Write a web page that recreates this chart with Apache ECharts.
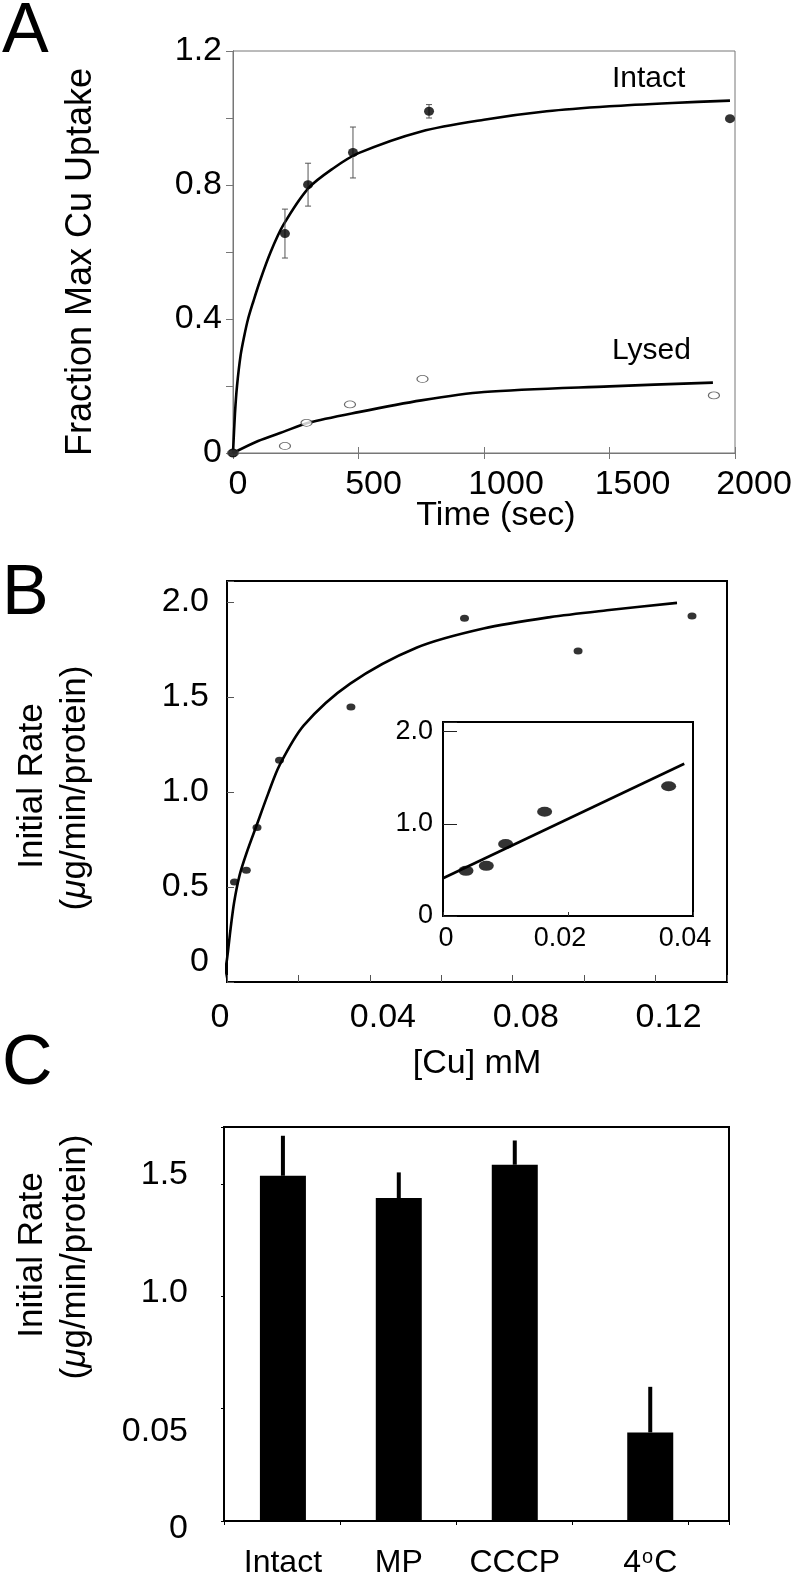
<!DOCTYPE html>
<html>
<head>
<meta charset="utf-8">
<script src="https://cdn.jsdelivr.net/npm/echarts@6/dist/echarts.min.js"></script>
<style>
html,body{margin:0;padding:0;background:#fff;}
#chart{width:800px;height:1576px;}
</style>
</head>
<body>
<div id="chart"></div>
<script>
// ---------- Panel A data ----------
const intactTimes = [0, 207, 299, 478, 781, 1980];
const intactVals  = [0, 0.655, 0.801, 0.897, 1.020, 0.998];
const intactErr   = [0, 0.073, 0.064, 0.076, 0.020, 0];
const lysedTimes  = [0, 207, 293, 466, 755, 1916];
const lysedVals   = [0, 0.021, 0.090, 0.145, 0.221, 0.172];
const intactCurveT = [0, 8, 16, 30, 45, 60, 80, 108, 150, 200, 300, 400, 500, 750, 1000, 1250, 1500, 1750, 1980];
const intactCurveV = [0, 0.12, 0.20, 0.29, 0.35, 0.40, 0.45, 0.515, 0.60, 0.68, 0.79, 0.85, 0.895, 0.96, 0.995, 1.02, 1.035, 1.045, 1.052];
const lysedCurveT = [0, 100, 200, 300, 500, 750, 1000, 1500, 1912];
const lysedCurveV = [0, 0.036, 0.063, 0.090, 0.122, 0.157, 0.182, 0.199, 0.210];
const timeTicks = [0, 500, 1000, 1500, 2000];
const fracTicks = ['0', '0.4', '0.8', '1.2'];

// ---------- Panel B data ----------
const concB = [0.0021, 0.0054, 0.0084, 0.0147, 0.0347, 0.0665, 0.0983, 0.1302];
const rateB = [0.526, 0.588, 0.813, 1.167, 1.447, 1.914, 1.742, 1.926];
const curveBx = [-0.0011, 0, 0.001, 0.002, 0.0035, 0.0055, 0.0084, 0.0115, 0.0147, 0.0215, 0.0345, 0.0532, 0.0718, 0.0905, 0.1064, 0.126];
const curveBy = [0, 0.12, 0.28, 0.42, 0.56, 0.68, 0.83, 0.99, 1.14, 1.35, 1.57, 1.76, 1.86, 1.92, 1.956, 1.995];
// inset (double reciprocal)
const insetX = [0.00368, 0.00693, 0.01002, 0.01626, 0.0361];
const insetY = [0.49, 0.544, 0.781, 1.131, 1.408];
const insetLineX = [0, 0.0386];
const insetLineY = [0.41, 1.652];

// ---------- Panel C data ----------
const categories = ['Intact', 'MP', 'CCCP', '4oC'];
const catPos = [0.508, 1.507, 2.507, 3.675];
const rateC = [1.536, 1.437, 1.585, 0.394];
const errC = [0.178, 0.114, 0.108, 0.203];
const rateCLabels = {0: '0', 0.5: '0.05', 1: '1.0', 1.5: '1.5'};

const FONT = "'Liberation Sans', Arial, Helvetica, sans-serif";
const zip = (a, b) => a.map((v, i) => [v, b[i]]);

const chart = echarts.init(document.getElementById('chart'), null, {renderer: 'canvas'});

function errBarsSym(color, lw, cap) {
  return function (params, api) {
    const x = api.value(0), y = api.value(1), e = api.value(2);
    if (!e) return null;
    const t = api.coord([x, y + e]);
    const b = api.coord([x, y - e]);
    return {
      type: 'group',
      children: [
        {type: 'line', shape: {x1: t[0], y1: t[1], x2: b[0], y2: b[1]}, style: {stroke: color, lineWidth: lw}},
        {type: 'line', shape: {x1: t[0] - cap, y1: t[1], x2: t[0] + cap, y2: t[1]}, style: {stroke: color, lineWidth: lw}},
        {type: 'line', shape: {x1: b[0] - cap, y1: b[1], x2: b[0] + cap, y2: b[1]}, style: {stroke: color, lineWidth: lw}}
      ]
    };
  };
}
function errBarsUp(params, api) {
  const x = api.value(0), y = api.value(1), e = api.value(2);
  const s = api.coord([x, y]);
  const t = api.coord([x, y + e]);
  return {type: 'line', shape: {x1: s[0], y1: s[1], x2: t[0], y2: t[1]}, style: {stroke: '#000', lineWidth: 4}};
}

const xShiftA = {0: 10, 500: 30, 1000: 44, 1500: 46, 2000: 38};
const near = (v, t) => Math.abs(v - t) < 1e-9;

const option = {
  animation: false,
  backgroundColor: '#fff',
  textStyle: {fontFamily: FONT},
  grid: [
    {left: 233, top: 51, width: 502, height: 402, show: true, borderColor: '#777', borderWidth: 1},
    {left: 227, top: 581, width: 500, height: 401, show: true, borderColor: '#000', borderWidth: 2},
    {left: 443, top: 722, width: 250, height: 194, show: true, borderColor: '#000', borderWidth: 2, backgroundColor: '#fff'},
    {left: 224, top: 1127, width: 505, height: 394, show: true, borderColor: '#000', borderWidth: 2}
  ],
  xAxis: [
    { // A bottom
      gridIndex: 0, type: 'value', min: 0, max: 2000, interval: 500, position: 'bottom',
      axisLine: {lineStyle: {color: '#777', width: 1}},
      axisTick: {inside: true, length: 6, lineStyle: {color: '#777'}},
      splitLine: {show: false},
      axisLabel: {
        margin: 15, color: '#000', fontSize: 34, fontFamily: FONT,
        formatter: v => {
          if (!timeTicks.includes(v)) return '';
          return '{p' + xShiftA[v] + '|' + v + '}';
        },
        rich: {
          p10: {padding: [0, 0, 0, 10], fontSize: 34, fontFamily: FONT, color: '#000'},
          p30: {padding: [0, 0, 0, 30], fontSize: 34, fontFamily: FONT, color: '#000'},
          p44: {padding: [0, 0, 0, 44], fontSize: 34, fontFamily: FONT, color: '#000'},
          p46: {padding: [0, 0, 0, 46], fontSize: 34, fontFamily: FONT, color: '#000'},
          p38: {padding: [0, 0, 0, 38], fontSize: 34, fontFamily: FONT, color: '#000'}
        }
      }
    },
    { // A top
      gridIndex: 0, type: 'value', min: 0, max: 2000, interval: 500, position: 'top',
      axisLine: {lineStyle: {color: '#777', width: 1}},
      axisTick: {inside: true, length: 6, lineStyle: {color: '#777'}},
      splitLine: {show: false}, axisLabel: {show: false}
    },
    { // B
      gridIndex: 1, type: 'value', min: 0, max: 0.14, interval: 0.02,
      axisLine: {lineStyle: {color: '#000', width: 2}},
      axisTick: {inside: true, length: 7, lineStyle: {color: '#555'}},
      splitLine: {show: false},
      axisLabel: {
        margin: 19, color: '#000', fontSize: 34, fontFamily: FONT,
        formatter: v => {
          if (near(v, 0)) return '{z|0}';
          for (const t of [0.04, 0.08, 0.12]) if (near(v, t)) return '{r|' + t + '}';
          return '';
        },
        rich: {
          z: {padding: [0, 14, 0, 0], fontSize: 34, fontFamily: FONT, color: '#000'},
          r: {padding: [0, 0, 0, 26], fontSize: 34, fontFamily: FONT, color: '#000'}
        }
      }
    },
    { // inset
      gridIndex: 2, type: 'value', min: 0, max: 0.04, interval: 0.02,
      axisLine: {lineStyle: {color: '#000', width: 2}},
      axisTick: {inside: true, length: 4, lineStyle: {color: '#333'}},
      splitLine: {show: false},
      axisLabel: {
        margin: 9, color: '#000', fontSize: 27, fontFamily: FONT,
        formatter: v => {
          if (near(v, 0)) return '{z|0}';
          if (near(v, 0.02)) return '{l|0.02}';
          if (near(v, 0.04)) return '{l|0.04}';
          return '';
        },
        rich: {
          z: {padding: [0, 0, 0, 6], fontSize: 27, fontFamily: FONT, color: '#000'},
          l: {padding: [0, 16, 0, 0], fontSize: 27, fontFamily: FONT, color: '#000'}
        }
      }
    },
    { // C
      gridIndex: 3, type: 'value', min: 0, max: 4.354, interval: 1,
      axisLine: {lineStyle: {color: '#000', width: 2}},
      axisTick: {inside: false, length: 4, lineStyle: {color: '#000'}},
      splitLine: {show: false}, axisLabel: {show: false}
    }
  ],
  yAxis: [
    { // A left
      gridIndex: 0, type: 'value', min: 0, max: 1.2, interval: 0.2,
      axisLine: {lineStyle: {color: '#777', width: 1}},
      axisTick: {inside: false, length: 7, lineStyle: {color: '#777'}},
      splitLine: {show: false},
      axisLabel: {
        margin: 11, color: '#000', fontSize: 34, fontFamily: FONT,
        formatter: v => {
          const k = Math.round(v * 10);
          if (Math.abs(v * 10 - k) > 1e-6 || k % 4 !== 0) return '';
          return fracTicks[k / 4];
        }
      }
    },
    { // A right
      gridIndex: 0, type: 'value', min: 0, max: 1.2, interval: 0.2, position: 'right',
      axisLine: {lineStyle: {color: '#777', width: 1}},
      axisTick: {inside: true, length: 7, lineStyle: {color: '#777'}},
      splitLine: {show: false}, axisLabel: {show: false}
    },
    { // B
      gridIndex: 1, type: 'value', min: 0, max: 2.11, interval: 0.5,
      axisLine: {lineStyle: {color: '#000', width: 2}},
      axisTick: {inside: true, length: 7, lineStyle: {color: '#555'}},
      splitLine: {show: false},
      axisLabel: {
        margin: 18, color: '#000', fontSize: 34, fontFamily: FONT,
        formatter: v => {
          if (near(v, 0)) return '{z|0}';
          for (const t of [0.5, 1, 1.5, 2]) if (near(v, t)) return t.toFixed(1);
          return '';
        },
        rich: {z: {padding: [0, 0, 40, 0], fontSize: 34, fontFamily: FONT, color: '#000'}}
      }
    },
    { // inset
      gridIndex: 2, type: 'value', min: 0, max: 2.105, interval: 1,
      axisLine: {lineStyle: {color: '#000', width: 2}},
      axisTick: {inside: true, length: 14, lineStyle: {color: '#222'}},
      splitLine: {show: false},
      axisLabel: {
        margin: 10, color: '#000', fontSize: 27, fontFamily: FONT,
        formatter: v => {
          if (near(v, 0)) return '0';
          if (near(v, 1)) return '1.0';
          if (near(v, 2)) return '2.0';
          return '';
        }
      }
    },
    { // C
      gridIndex: 3, type: 'value', min: 0, max: 1.753, interval: 0.5,
      axisLine: {lineStyle: {color: '#000', width: 2}},
      axisTick: {inside: false, length: 3, lineStyle: {color: '#000'}},
      splitLine: {show: false},
      axisLabel: {
        margin: 36, color: '#000', fontSize: 34, fontFamily: FONT,
        formatter: v => {
          if (near(v, 0)) return '{d8|' + rateCLabels[0] + '}';
          if (near(v, 0.5)) return '{d23|' + rateCLabels[0.5] + '}';
          if (near(v, 1)) return '{u4|' + rateCLabels[1] + '}';
          if (near(v, 1.5)) return '{u9|' + rateCLabels[1.5] + '}';
          return '';
        },
        rich: {
          d8: {padding: [16, 0, 0, 0], fontSize: 34, fontFamily: FONT, color: '#000'},
          d23: {padding: [46, 0, 0, 0], fontSize: 34, fontFamily: FONT, color: '#000'},
          u4: {padding: [0, 0, 8, 0], fontSize: 34, fontFamily: FONT, color: '#000'},
          u9: {padding: [0, 0, 18, 0], fontSize: 34, fontFamily: FONT, color: '#000'}
        }
      }
    }
  ],
  series: [
    // ----- A -----
    {type: 'line', xAxisIndex: 0, yAxisIndex: 0, data: zip(intactCurveT, intactCurveV), smooth: 0.3,
     showSymbol: false, lineStyle: {color: '#000', width: 2.6}, z: 2, silent: true},
    {type: 'line', xAxisIndex: 0, yAxisIndex: 0, data: zip(lysedCurveT, lysedCurveV), smooth: 0.3,
     showSymbol: false, lineStyle: {color: '#000', width: 2.6}, z: 2, silent: true},
    {type: 'custom', xAxisIndex: 0, yAxisIndex: 0, renderItem: errBarsSym('#555', 1, 3),
     data: intactTimes.map((t, i) => [t, intactVals[i], intactErr[i]]), z: 3, encode: {x: 0, y: 1}},
    {type: 'scatter', xAxisIndex: 0, yAxisIndex: 0, data: zip(lysedTimes, lysedVals), symbol: 'circle',
     symbolSize: [11, 7], itemStyle: {color: '#fff', borderColor: '#444', borderWidth: 1}, z: 4},
    {type: 'scatter', xAxisIndex: 0, yAxisIndex: 0, data: zip(intactTimes, intactVals), symbol: 'circle',
     symbolSize: [10, 9], itemStyle: {color: '#000'}, z: 5},
    // ----- B -----
    {type: 'line', xAxisIndex: 2, yAxisIndex: 2, data: zip(curveBx, curveBy), smooth: 0.3, clip: false,
     showSymbol: false, lineStyle: {color: '#000', width: 2.6}, z: 2},
    {type: 'scatter', xAxisIndex: 2, yAxisIndex: 2, data: zip(concB, rateB), symbol: 'circle',
     symbolSize: [9, 7], itemStyle: {color: '#000'}, z: 4},
    // ----- inset -----
    {type: 'line', xAxisIndex: 3, yAxisIndex: 3, data: zip(insetLineX, insetLineY),
     showSymbol: false, lineStyle: {color: '#000', width: 2.6}, z: 6},
    {type: 'scatter', xAxisIndex: 3, yAxisIndex: 3, data: zip(insetX, insetY), symbol: 'circle',
     symbolSize: [15, 10], itemStyle: {color: '#000'}, z: 7},
    // ----- C -----
    {type: 'bar', xAxisIndex: 4, yAxisIndex: 4, data: zip(catPos, rateC), barWidth: 46,
     itemStyle: {color: '#000'},
     label: {
       show: true, position: 'bottom', distance: 26, color: '#000',
       formatter: p => {
         const n = categories[p.dataIndex];
         if (n === '4oC') return '{n|4}{sup|o}{n|C}';
         return '{n|' + n + '}';
       },
       rich: {
         n: {fontSize: 32, fontFamily: FONT, color: '#000'},
         sup: {fontSize: 20, fontFamily: FONT, color: '#000', verticalAlign: 'top', padding: [0, 1, 12, 1]}
       }
     }, z: 2},
    {type: 'custom', xAxisIndex: 4, yAxisIndex: 4, renderItem: errBarsUp,
     data: catPos.map((x, i) => [x, rateC[i], errC[i]]), encode: {x: 0, y: 1}, z: 3}
  ],
  graphic: [
    {type: 'text', x: 2, y: 33, style: {text: 'A', font: '70px ' + FONT, fill: '#000', textVerticalAlign: 'middle'}},
    {type: 'text', x: 2, y: 595, style: {text: 'B', font: '70px ' + FONT, fill: '#000', textVerticalAlign: 'middle'}},
    {type: 'text', x: 2, y: 1065, style: {text: 'C', font: '70px ' + FONT, fill: '#000', textVerticalAlign: 'middle'}},
    {type: 'text', x: 612, y: 79, style: {text: 'Intact', font: '30px ' + FONT, fill: '#000', textVerticalAlign: 'middle'}},
    {type: 'text', x: 612, y: 351, style: {text: 'Lysed', font: '30px ' + FONT, fill: '#000', textVerticalAlign: 'middle'}},
    {type: 'text', x: 496, y: 516, style: {text: 'Time (sec)', font: '34px ' + FONT, fill: '#000', textAlign: 'center', textVerticalAlign: 'middle'}},
    {type: 'text', x: 81, y: 262, rotation: Math.PI / 2,
     style: {text: 'Fraction Max Cu Uptake', font: '36px ' + FONT, fill: '#000', textAlign: 'center', textVerticalAlign: 'middle'}},
    {type: 'text', x: 477, y: 1064, style: {text: '[Cu] mM', font: '34px ' + FONT, fill: '#000', textAlign: 'center', textVerticalAlign: 'middle'}},
    {type: 'text', x: 32, y: 786, rotation: Math.PI / 2,
     style: {text: 'Initial Rate', font: '35px ' + FONT, fill: '#000', textAlign: 'center', textVerticalAlign: 'middle'}},
    {type: 'text', x: 75, y: 788, rotation: Math.PI / 2,
     style: {text: '({mu|μ}g/min/protein)', font: '35px ' + FONT, fill: '#000', textAlign: 'center', textVerticalAlign: 'middle',
             rich: {mu: {fontStyle: 'italic', fontSize: 35, fontFamily: FONT}}}},
    {type: 'text', x: 32, y: 1255, rotation: Math.PI / 2,
     style: {text: 'Initial Rate', font: '35px ' + FONT, fill: '#000', textAlign: 'center', textVerticalAlign: 'middle'}},
    {type: 'text', x: 75, y: 1257, rotation: Math.PI / 2,
     style: {text: '({mu|μ}g/min/protein)', font: '35px ' + FONT, fill: '#000', textAlign: 'center', textVerticalAlign: 'middle',
             rich: {mu: {fontStyle: 'italic', fontSize: 35, fontFamily: FONT}}}}
  ]
};
chart.setOption(option);
</script>
</body>
</html>
